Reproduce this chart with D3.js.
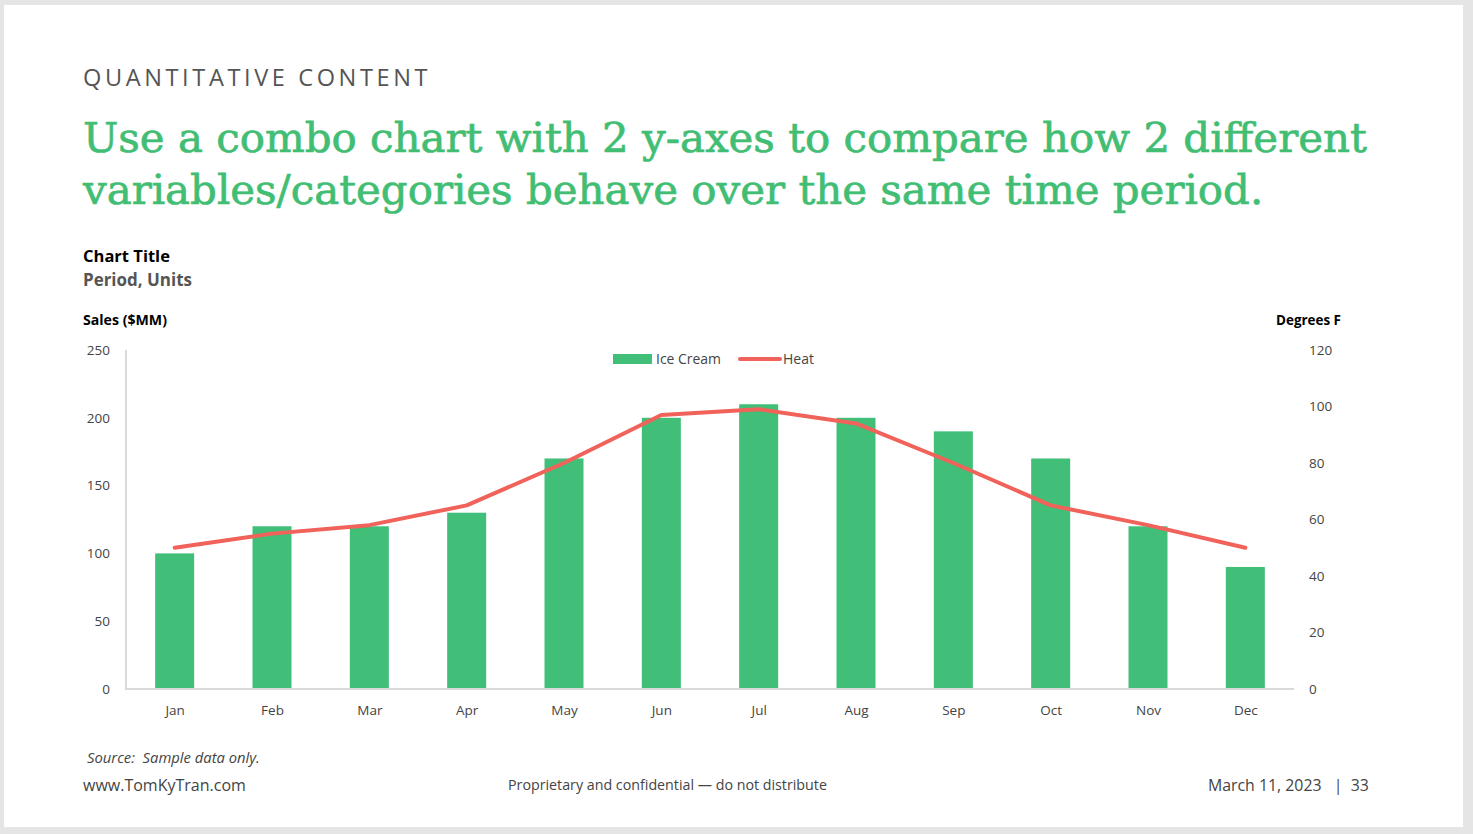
<!DOCTYPE html>
<html><head><meta charset="utf-8">
<script src="https://cdn.jsdelivr.net/npm/d3@7"></script>
<style>
html,body{margin:0;padding:0;background:#e5e5e5;}
svg{display:block;}
</style></head>
<body>
<script>
const months = ["Jan","Feb","Mar","Apr","May","Jun","Jul","Aug","Sep","Oct","Nov","Dec"];
const iceCream = [100,120,120,130,170,200,210,200,190,170,120,90];
const heat = [50,55,58,65,80,97,99,94,80,65,58,50];
const salesTicks = [0,50,100,150,200,250];
const degreeTicks = [0,20,40,60,80,100,120];
const seriesNames = ["Ice Cream","Heat"];

const W = 1473, H = 834;
const green = "#41bf78", red = "#f0625a", titleGreen = "#42be74";
const svg = d3.select("body").append("svg").attr("width", W).attr("height", H);

svg.append("rect").attr("x",0).attr("y",0).attr("width",W).attr("height",H).attr("fill","#e5e5e5");
svg.append("rect").attr("x",4).attr("y",5).attr("width",1459).attr("height",822).attr("fill","#fff");

function fit(sel, target){
  const n = sel.node();
  let fs = parseFloat(sel.attr("font-size"));
  const w = n.getComputedTextLength();
  sel.attr("font-size", fs * target / w);
  return sel;
}

const F = "'Open Sans', sans-serif";
function txt(x, y, s, size, opts={}){
  const t = svg.append("text").attr("x",x).attr("y",y).attr("font-family",opts.family||F)
    .attr("font-size",size).attr("fill",opts.fill||"#444").text(s);
  if(opts.weight) t.attr("font-weight",opts.weight);
  if(opts.style) t.attr("font-style",opts.style);
  if(opts.anchor) t.attr("text-anchor",opts.anchor);
  if(opts.ls) t.attr("letter-spacing",opts.ls);
  if(opts.pre) t.attr("xml:space","preserve");
  if(opts.stroke) t.attr("stroke",opts.fill).attr("stroke-width",opts.stroke);
  if(opts.w) fit(t, opts.w);
  return t;
}

// header
txt(83, 86, "QUANTITATIVE CONTENT", 23, {fill:"#555", ls:"3.6px", w:350});
const t1 = txt(83, 152, "Use a combo chart with 2 y-axes to compare how 2 different", 44, {family:"'DejaVu Serif', serif", fill:titleGreen, stroke:0.7, w:1284});
txt(83, 204, "variables/categories behave over the same time period.", t1.attr("font-size"), {family:"'DejaVu Serif', serif", fill:titleGreen, stroke:0.7});

txt(83, 262, "Chart Title", 17, {weight:"bold", fill:"#000", w:87});
txt(83, 286, "Period, Units", 17, {weight:"bold", fill:"#555", w:109});

// chart
const x0 = 126, x1 = 1294, yTop = 350, yBot = 689;
const xc = d3.scalePoint().domain(months).range([x0, x1]).padding(0.5);
const yL = d3.scaleLinear().domain([0,250]).range([yBot, yTop]);
const yR = d3.scaleLinear().domain([0,120]).range([yBot, yTop]);

const bw = 39;
svg.append("g").selectAll("rect").data(iceCream).join("rect")
  .attr("x",(d,i)=>xc(months[i]) - bw/2).attr("width",bw)
  .attr("y",d=>yL(d)).attr("height",d=>yBot - yL(d)).attr("fill",green);

svg.append("line").attr("x1",x0).attr("x2",x0).attr("y1",yTop).attr("y2",yBot).attr("stroke","#d9d9d9").attr("stroke-width",2);
svg.append("line").attr("x1",x0-1).attr("x2",x1).attr("y1",yBot).attr("y2",yBot).attr("stroke","#d9d9d9").attr("stroke-width",2);

const line = d3.line().x((d,i)=>xc(months[i])).y(d=>yR(d));
svg.append("path").datum(heat).attr("d",line).attr("fill","none").attr("stroke",red)
  .attr("stroke-width",4).attr("stroke-linecap","round").attr("stroke-linejoin","round");

const lAxis = svg.append("g").attr("transform",`translate(${x0},0)`)
  .call(d3.axisLeft(yL).tickValues(salesTicks).tickSize(0).tickPadding(16));
lAxis.select(".domain").remove();
lAxis.selectAll("text").attr("font-family",F).attr("font-size",13.5).attr("fill","#444");

const rAxis = svg.append("g").attr("transform",`translate(${x1},0)`)
  .call(d3.axisRight(yR).tickValues(degreeTicks).tickSize(0).tickPadding(15));
rAxis.select(".domain").remove();
rAxis.selectAll("text").attr("font-family",F).attr("font-size",13.5).attr("fill","#444");

const bAxis = svg.append("g").attr("transform",`translate(0,${yBot})`)
  .call(d3.axisBottom(xc).tickSize(0).tickPadding(16));
bAxis.select(".domain").remove();
bAxis.selectAll("text").attr("font-family",F).attr("font-size",13.5).attr("fill","#444");

// axis titles
txt(83, 325, "Sales ($MM)", 13, {weight:"bold", fill:"#000", w:84});
txt(1341, 325, "Degrees F", 13, {weight:"bold", fill:"#000", anchor:"end", w:65});

// legend
svg.append("rect").attr("x",613).attr("y",354).attr("width",39).attr("height",10).attr("fill",green);
txt(656, 364, seriesNames[0], 13, {w:65});
svg.append("line").attr("x1",740).attr("x2",780).attr("y1",359).attr("y2",359).attr("stroke",red).attr("stroke-width",4).attr("stroke-linecap","round");
txt(783, 364, seriesNames[1], 13, {w:31});

// footer
txt(87, 763, "Source:  Sample data only.", 13, {style:"italic", pre:true, w:173});
txt(83, 791, "www.TomKyTran.com", 15, {w:163});
txt(508, 790, "Proprietary and confidential — do not distribute", 13.5, {w:319});
txt(1208, 791, "March 11, 2023   |  33", 15, {pre:true, w:161});
</script>
</body></html>
